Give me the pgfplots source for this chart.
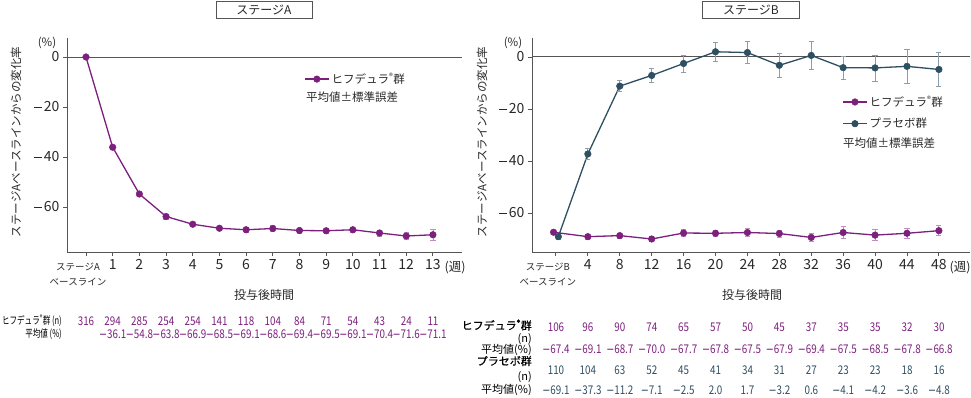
\documentclass[border=0pt]{standalone}
\usepackage{fontspec}
\setmainfont{Noto Sans CJK JP}
\newfontfamily\nf{Noto Sans CJK JP}[FakeStretch=0.82]
\newfontfamily\nfc{Noto Sans CJK JP}[FakeStretch=0.72]
\newfontfamily\jb{Noto Sans CJK JP}[FakeBold=0.6]
\newfontfamily\dvc{DejaVu Sans}[FakeStretch=0.8]
\newcommand{\mn}{\makebox[9.5pt][l]{\rule[4.6pt]{8pt}{0.85pt}}}
\newcommand{\mc}{{\dvc −}}
\usepackage{pgfplots}
\usepackage{pgfplotstable}
\pgfplotsset{compat=1.18}
\definecolor{pur}{RGB}{125,31,125}
\definecolor{pla}{RGB}{46,78,98}
\definecolor{axc}{RGB}{85,85,85}
\definecolor{txt}{RGB}{40,40,40}
\newcommand{\bl}[1]{\makebox[0pt]{\kern-16pt{\fontsize{9.5}{15}\selectfont\begin{tabular}[t]{@{}c@{}}ステージ#1\\ベースライン\end{tabular}}}}

\pgfplotstableread{
x y e
0 0 0
1 -36.1 0.8
2 -54.8 0.8
3 -63.8 1.0
4 -66.9 0.9
5 -68.5 0.9
6 -69.1 1.0
7 -68.6 1.3
8 -69.4 1.0
9 -69.5 1.0
10 -69.1 1.0
11 -70.4 1.2
12 -71.6 1.3
13 -71.1 2.3
}\dataA

\pgfplotstableread{
x y e
-0.3 -67.4 0.8
4 -69.1 1.0
8 -68.7 1.0
12 -70.0 1.0
16 -67.7 1.3
20 -67.8 1.2
24 -67.5 1.5
28 -67.9 1.3
32 -69.4 1.4
36 -67.5 2.2
40 -68.5 2.0
44 -67.8 1.9
48 -66.8 2.0
}\dataBh

\pgfplotstableread{
x y e
0.3 -69.1 1.0
4 -37.3 2.1
8 -11.2 2.2
12 -7.1 2.8
16 -2.5 3.3
20 2.0 3.7
24 1.7 4.1
28 -3.2 4.5
32 0.6 5.2
36 -4.1 4.5
40 -4.2 5.0
44 -3.6 6.5
48 -4.8 6.7
}\dataBp

\pgfplotsset{
 base/.style={scale only axis, height=214pt,
  axis x line*=bottom, axis y line*=left,
  axis line style={axc, line width=0.9pt, -},
  tick style={axc, line width=0.9pt}, tick align=outside, major tick length=4pt,
  ytick={-60,-40,-20,0}, yticklabels={\mn60,\mn40,\mn20,0},
  tick label style={font=\fontsize{14}{16}\selectfont, text=txt},
  clip=false,
  legend style={draw=none, fill=none, inner sep=0pt, font=\fontsize{11.5}{13}\selectfont, text=txt},
  legend cell align=left,
  legend image code/.code={\draw[##1,mark=none] (0pt,0pt) -- (24pt,0pt); \draw[##1] plot coordinates {(12pt,0pt)};},
 },
 hif/.style={color=pur, line width=1.3pt, mark=*, mark size=3.3pt, mark options={fill=pur, draw=pur, line width=0.5pt},
  error bars/.cd, y dir=both, y explicit,
  error bar style={color=pur!50!white, line width=0.8pt},
  error mark options={rotate=90, mark size=2.6pt, color=pur!50!white, line width=0.8pt}},
 plc/.style={color=pla, line width=1.3pt, mark=*, mark size=3.3pt, mark options={fill=pla, draw=pla, line width=0.5pt},
  error bars/.cd, y dir=both, y explicit,
  error bar style={color=pla!55!white, line width=0.8pt},
  error mark options={rotate=90, mark size=2.6pt, color=pla!55!white, line width=0.8pt}},
}

\begin{document}
\begin{tikzpicture}[x=1pt,y=1pt]
\useasboundingbox (0,0) rectangle (971,397);

% ---------- Stage A ----------
\begin{axis}[base, at={(67pt,145pt)}, anchor=south west, width=395pt,
  xmin=-0.712, xmax=14.09, ymin=-78, ymax=7.6,
  xtick={0,...,13}, xticklabels={\bl{A},1,2,3,4,5,6,7,8,9,10,11,12,13},
  legend style={at={(0.60,0.808)}, anchor=west}]
\draw[axc, line width=1pt] (axis cs:-0.712,0) -- (axis cs:14.09,0);
\addplot+[hif] table[x=x,y=y,y error=e] {\dataA};
\addlegendentry{ヒフデュラ\textsuperscript{®}群}
\end{axis}

% ---------- Stage B ----------
\begin{axis}[base, at={(532pt,145pt)}, anchor=south west, width=438pt,
  xmin=-3, xmax=51.9, ymin=-75, ymax=7.3,
  xtick={0,4,...,48}, xticklabels={\bl{B},4,8,12,16,20,24,28,32,36,40,44,48},
  legend style={at={(0.708,0.74)}, anchor=north west, row sep=6pt}]
\draw[axc, line width=1pt] (axis cs:-3,0) -- (axis cs:51.9,0);
\addplot+[hif] table[x=x,y=y,y error=e] {\dataBh};
\addlegendentry{ヒフデュラ\textsuperscript{®}群}
\addplot+[plc] table[x=x,y=y,y error=e] {\dataBp};
\addlegendentry{プラセボ群}
\end{axis}

% titles
\node[draw=axc, line width=0.8pt, minimum width=96pt, minimum height=17pt, inner sep=0pt, font=\fontsize{12}{13}\selectfont, text=txt] at (264,387) {ステージA};
\node[draw=axc, line width=0.8pt, minimum width=97pt, minimum height=17pt, inner sep=0pt, font=\fontsize{12}{13}\selectfont, text=txt] at (751,387) {ステージB};

\begin{scope}[every node/.style={font=\fontsize{11.5}{13}\selectfont, text=txt, inner sep=1pt}]
\node at (47,354) {(\%)};
\node at (513,354) {(\%)};
\node[rotate=90] at (16,255) {ステージAベースラインからの変化率};
\node[rotate=90] at (482,255) {ステージAベースラインからの変化率};
\node[font=\fontsize{12.5}{14}\selectfont] at (455,129) {(週)};
\node[font=\fontsize{12.5}{14}\selectfont] at (960,129) {(週)};
\node[font=\fontsize{12}{14}\selectfont] at (264,102) {投与後時間};
\node[font=\fontsize{12}{14}\selectfont] at (752,102) {投与後時間};
\node[anchor=west] at (305,300) {平均値±標準誤差};
\node[anchor=west] at (842,254) {平均値±標準誤差};
\end{scope}

% table A
\begin{scope}[every node/.style={font=\nf\fontsize{12}{13}\selectfont, inner sep=0pt}]
\node[anchor=east, text=black, font=\nfc\fontsize{10.5}{12}\selectfont] at (62,76) {ヒフデュラ\textsuperscript{®}群 (n)};
\node[anchor=east, text=black, font=\nfc\fontsize{10.5}{12}\selectfont] at (62,63) {平均値 (\%)};
\foreach \v [count=\i from 0] in {316,294,285,254,254,141,118,104,84,71,54,43,24,11}
  \node[text=pur] at ({86+26.69*\i},76) {\v};
\foreach \v [count=\i from 1] in {36.1,54.8,63.8,66.9,68.5,69.1,68.6,69.4,69.5,69.1,70.4,71.6,71.1}
  \node[text=pur] at ({86+26.69*\i},63) {\mc\v};
% table B
\node[anchor=east, text=black, font=\jb\fontsize{11}{13}\selectfont] at (532,72) {ヒフデュラ\textsuperscript{®}群};
\node[anchor=east, text=black, font=\fontsize{11}{13}\selectfont] at (532,58) {(n)};
\node[anchor=east, text=black, font=\fontsize{11}{13}\selectfont] at (532,47) {平均値(\%)};
\node[anchor=east, text=black, font=\jb\fontsize{11}{13}\selectfont] at (532,36) {プラセボ群};
\node[anchor=east, text=black, font=\fontsize{11}{13}\selectfont] at (532,20) {(n)};
\node[anchor=east, text=black, font=\fontsize{11}{13}\selectfont] at (532,7) {平均値(\%)};
\foreach \v [count=\i from 0] in {106,96,90,74,65,57,50,45,37,35,35,32,30}
  \node[text=pur] at ({556+31.92*\i},70) {\v};
\foreach \v [count=\i from 0] in {67.4,69.1,68.7,70.0,67.7,67.8,67.5,67.9,69.4,67.5,68.5,67.8,66.8}
  \node[text=pur] at ({556+31.92*\i},48) {\mc\v};
\foreach \v [count=\i from 0] in {110,104,63,52,45,41,34,31,27,23,23,18,16}
  \node[text=pla] at ({556+31.92*\i},27) {\v};
\foreach \v [count=\i from 0] in {\mc69.1,\mc37.3,\mc11.2,\mc7.1,\mc2.5,2.0,1.7,\mc3.2,0.6,\mc4.1,\mc4.2,\mc3.6,\mc4.8}
  \node[text=pla] at ({556+31.92*\i},7) {\v};
\end{scope}
\end{tikzpicture}
\end{document}
